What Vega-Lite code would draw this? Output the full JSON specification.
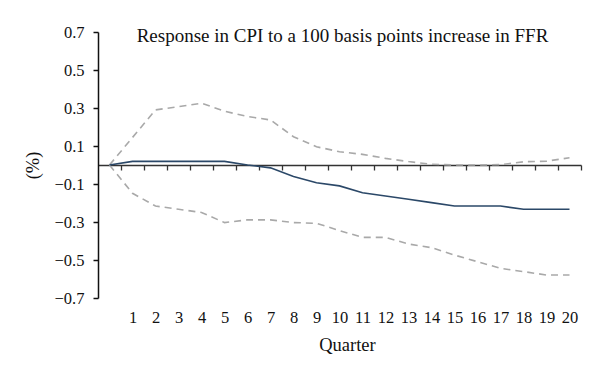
{
  "$schema": "https://vega.github.io/schema/vega-lite/v6.json",
  "autosize": {"type": "none"},
  "width": 483,
  "height": 266,
  "padding": {"left": 98, "top": 32, "right": 19, "bottom": 83},
  "background": "white",
  "title": {
    "text": "Response in CPI to a 100 basis points increase in FFR",
    "font": "Liberation Serif",
    "fontSize": 19,
    "fontWeight": "normal",
    "color": "#111111",
    "anchor": "middle",
    "baseline": "alphabetic",
    "offset": 0,
    "dy": 37,
    "dx": 3
  },
  "config": {
    "view": {"stroke": null},
    "axis": {
      "labelFont": "Liberation Serif",
      "titleFont": "Liberation Serif",
      "labelFontSize": 16.5,
      "titleFontSize": 18.5,
      "titleFontWeight": "normal",
      "labelColor": "#111111",
      "titleColor": "#111111",
      "labelOverlap": false,
      "labelBound": false,
      "grid": false
    }
  },
  "data": {
    "values": [
      {"k": 0, "s": "upper", "v": 0}, {"k": 1, "s": "upper", "v": 0.145}, {"k": 2, "s": "upper", "v": 0.29}, {"k": 3, "s": "upper", "v": 0.307}, {"k": 4, "s": "upper", "v": 0.325}, {"k": 5, "s": "upper", "v": 0.283}, {"k": 6, "s": "upper", "v": 0.255}, {"k": 7, "s": "upper", "v": 0.237}, {"k": 8, "s": "upper", "v": 0.149}, {"k": 9, "s": "upper", "v": 0.096}, {"k": 10, "s": "upper", "v": 0.07}, {"k": 11, "s": "upper", "v": 0.056}, {"k": 12, "s": "upper", "v": 0.035}, {"k": 13, "s": "upper", "v": 0.018}, {"k": 14, "s": "upper", "v": 0.004}, {"k": 15, "s": "upper", "v": 0.0}, {"k": 16, "s": "upper", "v": 0.0}, {"k": 17, "s": "upper", "v": 0.002}, {"k": 18, "s": "upper", "v": 0.017}, {"k": 19, "s": "upper", "v": 0.02}, {"k": 20, "s": "upper", "v": 0.038},
      {"k": 0, "s": "lower", "v": 0}, {"k": 1, "s": "lower", "v": -0.149}, {"k": 2, "s": "lower", "v": -0.216}, {"k": 3, "s": "lower", "v": -0.233}, {"k": 4, "s": "lower", "v": -0.25}, {"k": 5, "s": "lower", "v": -0.303}, {"k": 6, "s": "lower", "v": -0.289}, {"k": 7, "s": "lower", "v": -0.289}, {"k": 8, "s": "lower", "v": -0.303}, {"k": 9, "s": "lower", "v": -0.307}, {"k": 10, "s": "lower", "v": -0.345}, {"k": 11, "s": "lower", "v": -0.381}, {"k": 12, "s": "lower", "v": -0.381}, {"k": 13, "s": "lower", "v": -0.416}, {"k": 14, "s": "lower", "v": -0.435}, {"k": 15, "s": "lower", "v": -0.474}, {"k": 16, "s": "lower", "v": -0.509}, {"k": 17, "s": "lower", "v": -0.544}, {"k": 18, "s": "lower", "v": -0.561}, {"k": 19, "s": "lower", "v": -0.579}, {"k": 20, "s": "lower", "v": -0.579},
      {"k": 0, "s": "response", "v": 0}, {"k": 1, "s": "response", "v": 0.019}, {"k": 2, "s": "response", "v": 0.019}, {"k": 3, "s": "response", "v": 0.019}, {"k": 4, "s": "response", "v": 0.019}, {"k": 5, "s": "response", "v": 0.019}, {"k": 6, "s": "response", "v": 0.0}, {"k": 7, "s": "response", "v": -0.015}, {"k": 8, "s": "response", "v": -0.06}, {"k": 9, "s": "response", "v": -0.093}, {"k": 10, "s": "response", "v": -0.11}, {"k": 11, "s": "response", "v": -0.146}, {"k": 12, "s": "response", "v": -0.163}, {"k": 13, "s": "response", "v": -0.18}, {"k": 14, "s": "response", "v": -0.198}, {"k": 15, "s": "response", "v": -0.216}, {"k": 16, "s": "response", "v": -0.216}, {"k": 17, "s": "response", "v": -0.216}, {"k": 18, "s": "response", "v": -0.233}, {"k": 19, "s": "response", "v": -0.233}, {"k": 20, "s": "response", "v": -0.233}
    ]
  },
  "layer": [
    {
      "transform": [{"filter": "datum.s !== 'response'"}],
      "mark": {"type": "line", "color": "#a9a9a9", "strokeWidth": 1.6, "strokeDash": [7, 5]},
      "encoding": {
        "x": {
          "field": "k", "type": "quantitative",
          "scale": {"domain": [-0.5, 20.5], "nice": false, "zero": false},
          "axis": {
            "orient": "bottom",
            "values": [1,2,3,4,5,6,7,8,9,10,11,12,13,14,15,16,17,18,19,20],
            "tickCount": 20,
            "format": "d",
            "domain": false,
            "ticks": false,
            "labelPadding": 11,
            "title": "Quarter",
            "titlePadding": 10,
            "titleX": 249
          }
        },
        "y": {
          "field": "v", "type": "quantitative",
          "scale": {"domain": [-0.7, 0.7], "nice": false, "zero": false},
          "axis": {
            "values": [-0.7, -0.5, -0.3, -0.1, 0.1, 0.3, 0.5, 0.7],
            "tickCount": 8,
            "labelExpr": "replace(format(datum.value, '.1f'), '-', '\u2212')",
            "domainColor": "#111111",
            "domainWidth": 1.5,
            "tickColor": "#111111",
            "tickWidth": 1.5,
            "tickSize": 5,
            "labelPadding": 9,
            "title": "(%)",
            "titlePadding": 12
          }
        },
        "detail": {"field": "s", "type": "nominal"}
      }
    },
    {
      "transform": [{"filter": "datum.s === 'response'"}],
      "mark": {"type": "line", "color": "#2b4868", "strokeWidth": 1.6},
      "encoding": {
        "x": {
          "field": "k", "type": "quantitative",
          "axis": {
            "orient": "bottom",
            "offset": -133,
            "values": [0.5,1.5,2.5,3.5,4.5,5.5,6.5,7.5,8.5,9.5,10.5,11.5,12.5,13.5,14.5,15.5,16.5,17.5,18.5,19.5,20.5],
            "tickCount": 21,
            "labels": false,
            "title": null,
            "domainColor": "#333333",
            "domainWidth": 1.5,
            "tickColor": "#333333",
            "tickWidth": 1.3,
            "tickSize": 5
          }
        },
        "y": {"field": "v", "type": "quantitative"}
      }
    }
  ],
  "resolve": {"axis": {"x": "independent"}}
}
